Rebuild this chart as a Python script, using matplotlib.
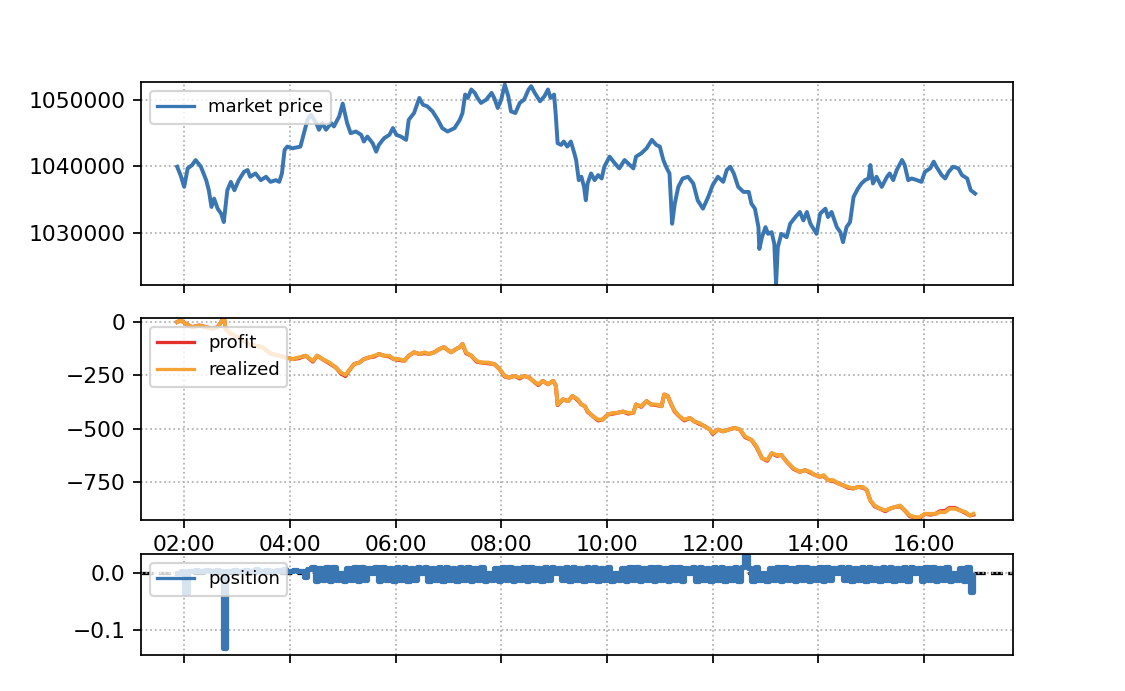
import matplotlib
matplotlib.use("Agg")
import matplotlib.pyplot as plt
import matplotlib.dates as mdates
from matplotlib.ticker import ScalarFormatter
import pandas as pd

DAY = "2018-01-01 "

price_times = ["01:52","01:56","02:00","02:04","02:09","02:13","02:19","02:25","02:28","02:31",
 "02:34","02:38","02:42","02:45","02:49","02:53","02:57","03:02","03:08","03:12",
 "03:15","03:21","03:27","03:33","03:38","03:44","03:48","03:51","03:54","03:57",
 "04:03","04:12","04:16","04:20","04:24","04:30","04:33","04:37","04:41","04:47",
 "04:50","04:56","05:00","05:05","05:09","05:15","05:21","05:24","05:28","05:34",
 "05:38","05:41","05:47","05:53","05:57","06:01","06:06","06:12","06:15","06:21",
 "06:27","06:31","06:36","06:42","06:48","06:53","06:59","07:07","07:13","07:16",
 "07:19","07:22","07:26","07:30","07:33","07:37","07:43","07:49","07:52","07:56",
 "08:00","08:04","08:08","08:11","08:16","08:21","08:26","08:31","08:34","08:38",
 "08:44","08:49","08:53","08:56","09:00","09:02","09:04","09:08","09:11","09:15",
 "09:19","09:23","09:25","09:28","09:31","09:34","09:36","09:38","09:42","09:46",
 "09:50","09:54","09:57","10:03","10:09","10:14","10:20","10:26","10:30","10:33",
 "10:39","10:45","10:51","10:56","11:00","11:04","11:08","11:11","11:14","11:17",
 "11:21","11:26","11:32","11:38","11:43","11:49","11:55","12:00","12:06","12:12",
 "12:16","12:20","12:24","12:29","12:35","12:41","12:44","12:48","12:52","12:53",
 "12:56","13:00","13:03","13:07","13:10","13:12","13:14","13:18","13:24","13:28",
 "13:34","13:39","13:43","13:47","13:51","13:58","14:02","14:08","14:11","14:15",
 "14:21","14:25","14:28","14:32","14:36","14:40","14:45","14:49","14:53","14:57",
 "14:59","15:02","15:06","15:12","15:18","15:21","15:25","15:29","15:35","15:38",
 "15:42","15:46","15:52","15:57","16:01","16:07","16:11","16:14","16:20","16:24",
 "16:28","16:33","16:39","16:43","16:49","16:53","16:58"]

market_price = [1039900,1038600,1036870,1039650,1040150,1040900,1039900,1037880,1036360,1033840,
 1035100,1033590,1032830,1031570,1036360,1037620,1036360,1037880,1039140,1039400,
 1038390,1038890,1037880,1038390,1037620,1037880,1037620,1038890,1042420,1042930,
 1042670,1042930,1044950,1046970,1047730,1046470,1045460,1046470,1045460,1046470,
 1045960,1047470,1049400,1046470,1044950,1045200,1044700,1043690,1044440,1043440,
 1042170,1043180,1044190,1044700,1045710,1044700,1044440,1043940,1046970,1047980,
 1050250,1049240,1048990,1048230,1046970,1045710,1045200,1045710,1046970,1047980,
 1050760,1050250,1051520,1051010,1050250,1049500,1050000,1051010,1050250,1048740,
 1050000,1052270,1050500,1048230,1047980,1049500,1050000,1051520,1052020,1051010,
 1049750,1050500,1051520,1050250,1050760,1047480,1043440,1043180,1043690,1042930,
 1043690,1041920,1040910,1037880,1038390,1036870,1034850,1037380,1038890,1037880,
 1038640,1038130,1039900,1041420,1040400,1039650,1040910,1040150,1039650,1041420,
 1041920,1042670,1043940,1043180,1042930,1040910,1039650,1038890,1031320,1034340,
 1036870,1038130,1038390,1037380,1034850,1033590,1035360,1037120,1038390,1037620,
 1039400,1039900,1038890,1036870,1036110,1036110,1034340,1033590,1030810,1027530,
 1029290,1030810,1029800,1030050,1028290,1022220,1027780,1029800,1029290,1031320,
 1032330,1033090,1031820,1033090,1031320,1029800,1032830,1033590,1032330,1033090,
 1030810,1030050,1028540,1030810,1031570,1035360,1036620,1037380,1037880,1038130,
 1040150,1037380,1038390,1036870,1038390,1038890,1037880,1039400,1040910,1040150,
 1037880,1038130,1037880,1037620,1039140,1039650,1040660,1039900,1038640,1038130,
 1039140,1039900,1039650,1038640,1038130,1036360,1035860]

pnl_times = ["01:52","01:56","02:02","02:09","02:17","02:25","02:32","02:38","02:42","02:45",
 "02:47","02:53","03:05","03:14","03:29","03:38","03:55","04:03","04:10","04:18",
 "04:26","04:31","04:37","04:45","04:52","04:58","05:03","05:07","05:13","05:19",
 "05:24","05:30","05:36","05:41","05:47","05:53","05:58","06:04","06:10","06:15",
 "06:21","06:27","06:33","06:38","06:44","06:50","06:55","07:00","07:03","07:09",
 "07:13","07:16","07:20","07:26","07:32","07:37","07:45","07:52","07:58","08:04",
 "08:09","08:15","08:21","08:26","08:32","08:36","08:42","08:47","08:53","08:59",
 "09:02","09:04","09:10","09:16","09:21","09:27","09:31","09:35","09:38","09:44",
 "09:50","09:55","10:01","10:07","10:12","10:18","10:24","10:30","10:33","10:39",
 "10:45","10:50","10:56","11:02","11:05","11:09","11:13","11:17","11:22","11:28",
 "11:34","11:39","11:45","11:51","11:57","12:00","12:06","12:12","12:18","12:25",
 "12:31","12:37","12:44","12:50","12:56","13:02","13:07","13:13","13:18","13:24",
 "13:32","13:39","13:45","13:51","13:56","14:02","14:06","14:11","14:17","14:23",
 "14:28","14:34","14:40","14:45","14:51","14:55","14:59","15:04","15:10","15:16",
 "15:21","15:27","15:33","15:38","15:44","15:50","15:55","16:01","16:07","16:13",
 "16:18","16:24","16:29","16:35","16:41","16:47","16:52","16:56"]

realized = [0,8,-8,-24,-16,-24,-32,-24,0,30,
 -32,-55,-80,-105,-118,-148,-166,-174,-166,-158,
 -182,-158,-174,-190,-213,-237,-248,-229,-197,-190,
 -174,-166,-158,-150,-158,-158,-174,-174,-182,-158,
 -142,-150,-142,-150,-142,-126,-118,-134,-142,-126,
 -118,-103,-142,-158,-182,-190,-190,-197,-221,-253,
 -261,-253,-261,-253,-261,-276,-292,-276,-292,-276,
 -300,-387,-363,-371,-347,-363,-387,-395,-418,-442,
 -458,-458,-434,-426,-426,-420,-426,-426,-387,-395,
 -371,-387,-387,-395,-340,-347,-387,-418,-442,-458,
 -450,-466,-474,-489,-505,-521,-505,-513,-505,-497,
 -505,-537,-553,-584,-639,-647,-616,-624,-624,-655,
 -687,-703,-695,-703,-718,-726,-718,-742,-742,-758,
 -766,-774,-781,-774,-774,-789,-837,-861,-876,-884,
 -876,-868,-861,-884,-908,-916,-916,-900,-900,-900,
 -892,-892,-876,-876,-884,-892,-908,-900]

profit = [0,8,-8,-24,-16,-24,-32,-24,0,30,
 -32,-55,-80,-105,-118,-148,-166,-174,-170,-158,
 -186,-158,-174,-194,-213,-241,-254,-229,-197,-190,
 -174,-166,-162,-150,-158,-162,-174,-178,-182,-158,
 -142,-150,-146,-150,-142,-126,-118,-134,-142,-126,
 -118,-103,-146,-158,-186,-190,-194,-197,-221,-256,
 -261,-253,-265,-253,-261,-276,-296,-276,-292,-276,
 -300,-390,-363,-371,-347,-367,-387,-395,-421,-442,
 -462,-458,-434,-430,-426,-420,-430,-426,-387,-398,
 -371,-387,-390,-395,-340,-347,-387,-421,-442,-462,
 -450,-466,-478,-489,-505,-525,-505,-513,-505,-497,
 -505,-541,-553,-588,-639,-651,-616,-628,-624,-655,
 -690,-703,-695,-707,-718,-726,-722,-742,-746,-758,
 -766,-778,-781,-774,-778,-789,-837,-865,-876,-888,
 -876,-868,-865,-884,-912,-916,-920,-900,-904,-900,
 -888,-886,-872,-872,-884,-896,-908,-904]

# position, in thousandths, every 4 minutes from 01:52
position_start = "01:52"
position_milli = [0,3,-35,3,4,5,3,4,5,3,4,5,3,-131,3,4,5,3,4,5,3,4,6,3,4,5,3,4,5,3,6,4,3,5,4,3,-8,6,
 10,-14,9,-12,11,-15,10,-13,0,-14,9,-12,10,-15,11,-13,9,0,10,-14,
 11,-12,9,-15,10,-13,11,-14,9,-12,10,0,11,-15,9,-13,10,-14,11,-12,
 9,-15,10,-13,11,-14,9,-12,10,-15,0,-13,9,-14,10,-12,11,-15,9,-13,
 10,-14,11,-12,9,-15,10,-13,11,0,9,-12,10,-15,11,-13,9,-14,10,-12,
 11,-15,9,-13,10,-14,0,-12,9,-15,10,-13,11,-14,9,-12,10,-15,11,-13,
 9,-14,10,-12,11,-15,9,0,10,-14,11,-12,9,-15,10,-13,11,-14,9,-12,
 10,-15,11,33,9,-14,10,-12,0,-15,9,-13,10,-14,11,-12,9,-15,10,-13,
 11,-14,9,-12,10,-15,11,-13,9,0,10,-12,11,-15,9,-13,10,-14,11,-12,
 9,-15,10,-13,11,-14,9,-12,10,-15,11,0,9,-14,10,-12,11,-15,9,-13,
 10,-14,0,-12,9,-15,10,-33,-4]

price_ticks = [1030000, 1040000, 1050000]
pnl_ticks = [-750, -500, -250, 0]
pos_ticks = [-0.1, 0.0]

BLUE = "#3a76b2"
RED = "#e3302b"
ORANGE = "#f4a334"
LW = 1.8

pt = pd.to_datetime([DAY + t for t in price_times])
nt = pd.to_datetime([DAY + t for t in pnl_times])
post = pd.date_range(DAY + position_start, periods=len(position_milli), freq="4min")
pos = [v / 1000.0 for v in position_milli]

DPI = 157
fig = plt.figure(figsize=(1125 / DPI, 691 / DPI), dpi=DPI)
W, H = 1125.0, 691.0
def rect(l, t, r, b):
    return [l / W, (H - b) / H, (r - l) / W, (b - t) / H]

ax1 = fig.add_axes(rect(141, 82, 1013, 285))
ax2 = fig.add_axes(rect(141, 318, 1013, 520))
ax3 = fig.add_axes(rect(141, 554, 1013, 655))

xmin = pd.Timestamp(DAY + "01:11")
xmax = pd.Timestamp(DAY + "17:41")

ax1.plot(pt, market_price, color=BLUE, lw=LW, label="market price")
ax1.set_ylim(1022100, 1052650)
ax1.set_yticks(price_ticks)
fmt = ScalarFormatter(useOffset=False)
fmt.set_scientific(False)
ax1.yaxis.set_major_formatter(fmt)

ax2.plot(nt, profit, color=RED, lw=LW, label="profit")
ax2.plot(nt, realized, color=ORANGE, lw=LW, label="realized")
ax2.set_ylim(-929, 19)
ax2.set_yticks(pnl_ticks)

ax3.axhline(0, color="k", linestyle="--", linewidth=1.5, zorder=1)
ax3.plot(post, pos, color=BLUE, lw=2.4, label="position",
         drawstyle="steps-post", zorder=2)
ax3.set_ylim(-0.144, 0.033)
ax3.set_yticks(pos_ticks)

for ax in (ax1, ax2, ax3):
    ax.set_xlim(xmin, xmax)
    ax.xaxis.set_major_locator(mdates.HourLocator(byhour=range(0, 24, 2)))
    ax.xaxis.set_major_formatter(mdates.DateFormatter("%H:%M"))
    ax.grid(True, linestyle=":", color="#b0b0b0", linewidth=0.8)
    leg = ax.legend(loc="upper left", fontsize="small")
    for h in leg.get_lines():
        h.set_linewidth(1.5)

ax1.tick_params(axis="x", labelbottom=False)
ax3.tick_params(axis="x", labelbottom=False)

fig.savefig("out.png", dpi=DPI)
